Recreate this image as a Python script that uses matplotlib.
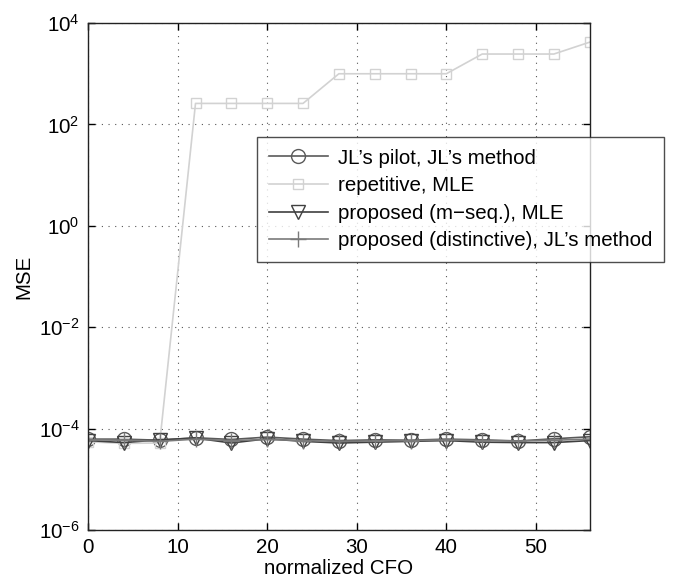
import matplotlib
matplotlib.use("Agg")
import matplotlib.pyplot as plt
from matplotlib.ticker import FixedLocator

plt.rcParams['font.family'] = ['Liberation Sans', 'DejaVu Sans']

cfo = [0, 4, 8, 12, 16, 20, 24, 28, 32, 36, 40, 44, 48, 52, 56]

jl_pilot = [6.2e-5, 6.2e-5, 5.9e-5, 6.6e-5, 6.1e-5, 6.8e-5, 6.2e-5, 5.8e-5, 6.0e-5, 5.9e-5, 6.2e-5, 6.0e-5, 5.7e-5, 6.3e-5, 6.9e-5]
repetitive = [5.5e-5, 5.1e-5, 5.2e-5, 260, 260, 260, 260, 1000, 1000, 1000, 1000, 2450, 2450, 2450, 4200]
proposed_mseq = [5.8e-5, 5.3e-5, 6.0e-5, 6.5e-5, 5.2e-5, 6.3e-5, 5.6e-5, 5.2e-5, 5.4e-5, 5.6e-5, 5.8e-5, 5.4e-5, 5.3e-5, 5.3e-5, 5.8e-5]
proposed_dist = [6.0e-5, 5.9e-5, 5.6e-5, 6.2e-5, 5.8e-5, 6.1e-5, 5.8e-5, 5.6e-5, 5.7e-5, 5.8e-5, 6.0e-5, 5.8e-5, 5.7e-5, 5.9e-5, 6.2e-5]

labels = ["JL\u2019s pilot, JL\u2019s method", "repetitive, MLE",
          "proposed (m\u2212seq.), MLE", "proposed (distinctive), JL\u2019s method"]

fs = 14.8

fig = plt.figure(figsize=(6.77, 5.84), dpi=100)
ax = fig.add_axes([0.130, 0.0925, 0.741, 0.868])

ax.semilogy(cfo, jl_pilot, color='#5a5a5a', marker='o', markersize=10,
            markerfacecolor='none', markeredgecolor='#5a5a5a', lw=1.2, label=labels[0])
ax.semilogy(cfo, repetitive, color='#d2d2d2', marker='s', markersize=7.5,
            markerfacecolor='none', markeredgecolor='#d2d2d2', lw=1.2, label=labels[1])
ax.semilogy(cfo, proposed_mseq, color='#404040', marker='v', markersize=10,
            markerfacecolor='none', markeredgecolor='#404040', lw=1.2, label=labels[2])
ax.semilogy(cfo, proposed_dist, color='#7a7a7a', marker='+', markersize=12,
            markeredgecolor='#7a7a7a', lw=1.2, label=labels[3])

ax.set_xlim(0, 56)
ax.set_ylim(1e-6, 1e4)
ax.xaxis.set_major_locator(FixedLocator([0, 10, 20, 30, 40, 50]))
ax.yaxis.set_major_locator(FixedLocator([1e-6, 1e-4, 1e-2, 1e0, 1e2, 1e4]))
ax.yaxis.set_minor_locator(FixedLocator([]))
ax.tick_params(direction='in', top=True, right=True, labelsize=fs, length=5, width=1, pad=6)
ax.grid(True, which='major', linestyle=(0, (1, 5)), color='#555555', lw=0.8)
for s in ax.spines.values():
    s.set_linewidth(1.0)
    s.set_color('#222222')

ax.set_xlabel('normalized CFO', fontsize=fs, labelpad=1)
ax.set_ylabel('MSE', fontsize=fs, labelpad=4)

leg = fig.legend(loc='upper right', bbox_to_anchor=(0.981, 0.765), fontsize=fs,
                 frameon=True, fancybox=False, edgecolor='#222222',
                 handlelength=2.9, borderpad=0.55, labelspacing=0.42,
                 handletextpad=0.5, borderaxespad=0)
leg.get_frame().set_linewidth(1.0)

fig.savefig('out.png', dpi=100)
